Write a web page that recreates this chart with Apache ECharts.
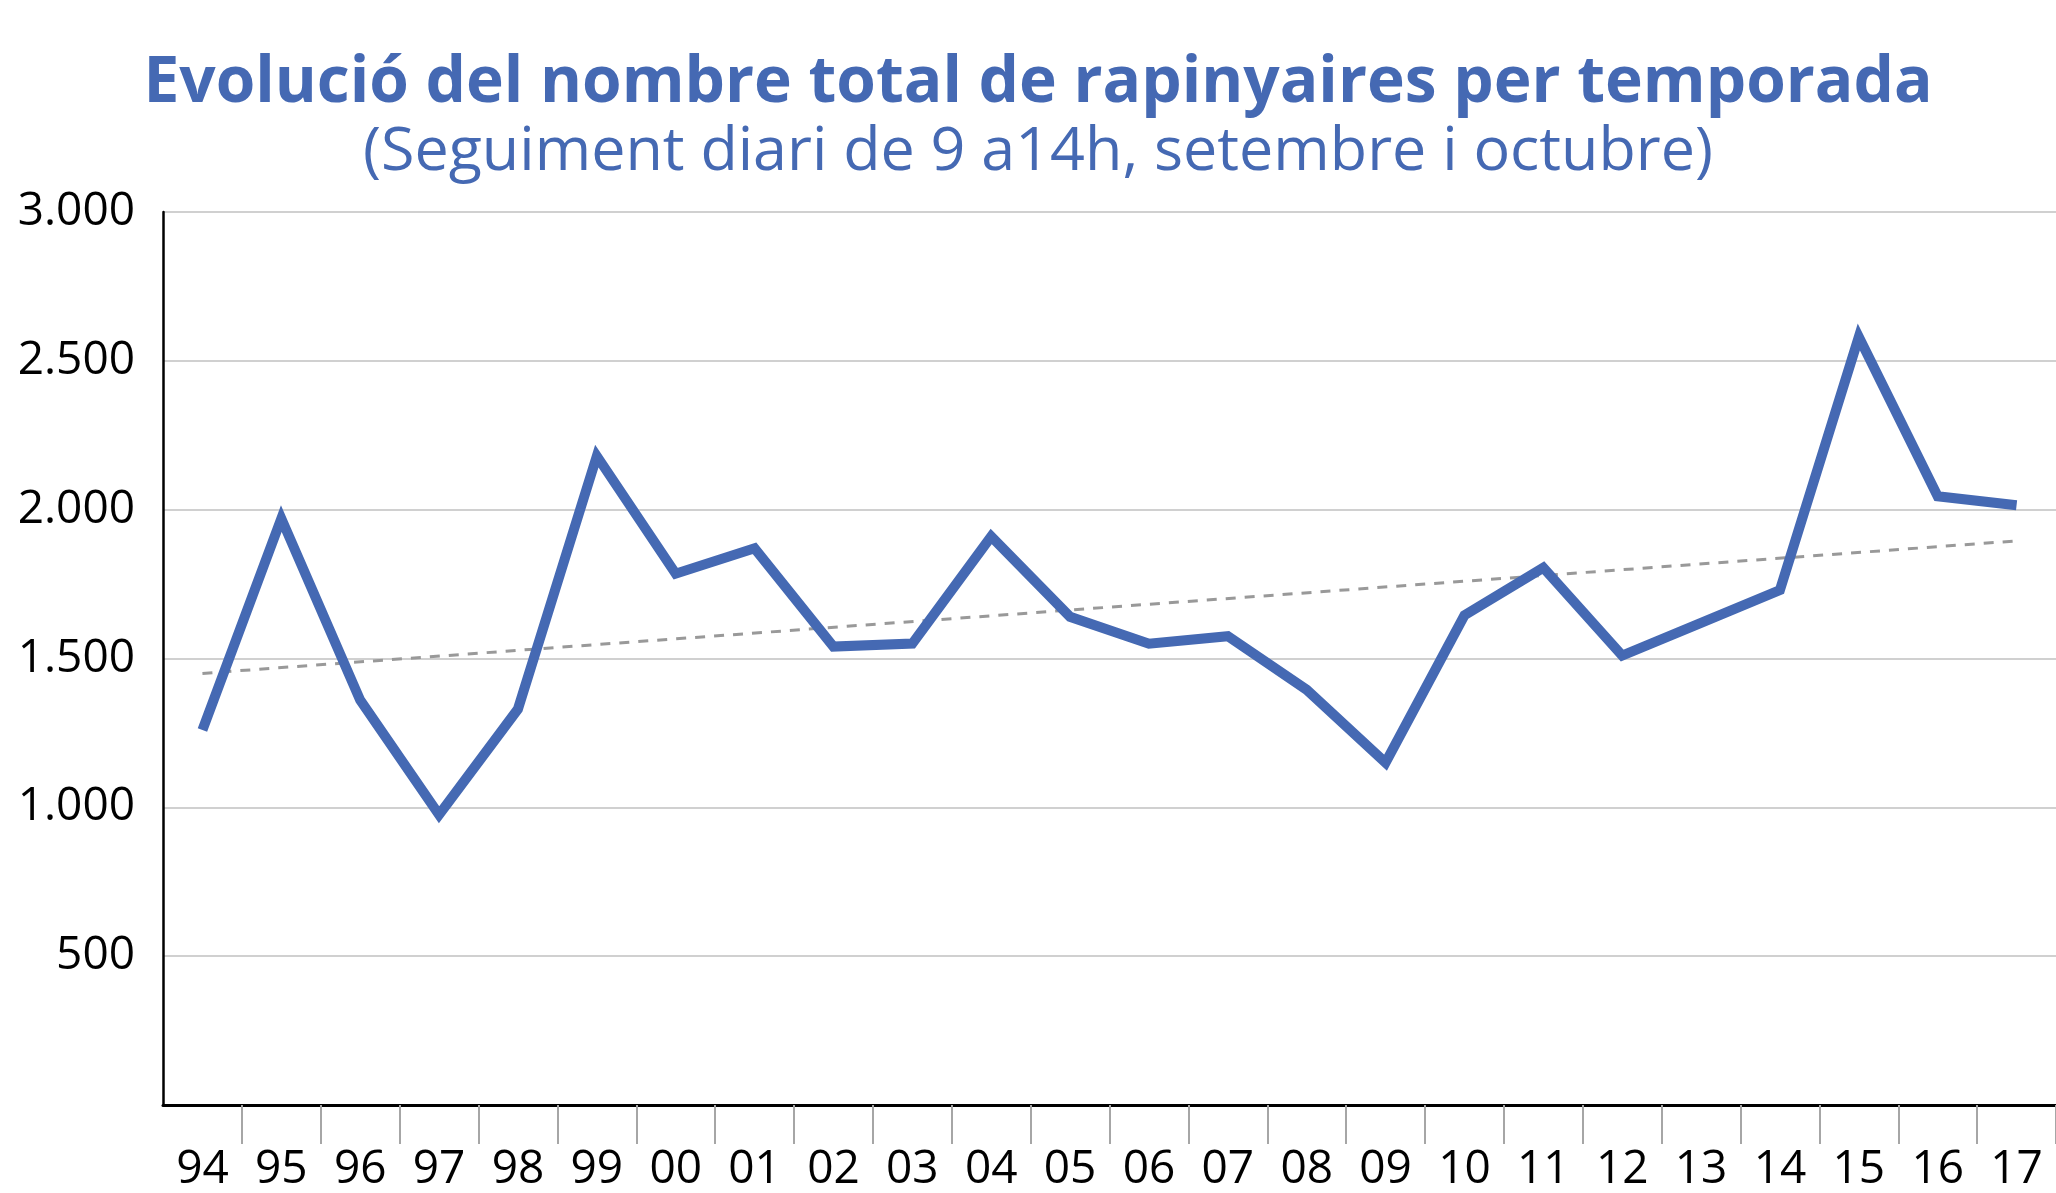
<!DOCTYPE html>
<html>
<head>
<meta charset="utf-8">
<title>Evolució del nombre total de rapinyaires per temporada</title>
<script src="https://cdn.jsdelivr.net/npm/echarts@6/dist/echarts.min.js"></script>
<style>
  html, body { margin: 0; padding: 0; background: #fff; }
  #chart { width: 2056px; height: 1193px; }
</style>
</head>
<body>
<div id="chart"></div>
<script>
// temporades (any)
var years = ["94", "95", "96", "97", "98", "99", "00", "01", "02", "03", "04", "05",
  "06", "07", "08", "09", "10", "11", "12", "13", "14", "15", "16", "17"];
// nombre total de rapinyaires
var counts = [1260, 1970, 1360, 975, 1330, 2180, 1785, 1870, 1540, 1550, 1910, 1640,
  1550, 1575, 1395, 1150, 1645, 1805, 1510, 1620, 1730, 2580, 2045, 2015];
// línia de tendència: valor al primer i a l'últim any
var trendEnds = [1450, 1895];
var yTickLabels = ["", "500", "1.000", "1.500", "2.000", "2.500", "3.000"];

var blue = "#4569b3";
var labelFont = "'Open Sans', sans-serif";

var chart = echarts.init(document.getElementById("chart"));
chart.setOption({
  animation: false,
  backgroundColor: "#fff",
  title: [
    {
      text: "Evolució del nombre total de rapinyaires per temporada",
      left: 1038,
      top: 52,
      padding: 0,
      textAlign: "center",
      textStyle: {
        color: blue,
        fontFamily: "'Open Sans'",
        fontWeight: "bold",
        fontSize: 64
      }
    },
    {
      text: "(Seguiment diari de 9 a14h, setembre i octubre)",
      left: 1038,
      top: 122,
      padding: 0,
      textAlign: "center",
      textStyle: {
        color: blue,
        fontFamily: "'Open Sans'",
        fontWeight: "normal",
        fontSize: 61
      }
    }
  ],
  grid: {
    left: 163,
    top: 212,
    width: 1898,
    height: 903
  },
  xAxis: {
    type: "category",
    data: years,
    boundaryGap: true,
    axisLine: { lineStyle: { color: "#000", width: 3 } },
    axisTick: {
      show: true,
      length: 39,
      interval: function (index) { return index > 0; },
      lineStyle: { color: "#a6a6a6", width: 2 }
    },
    axisLabel: {
      color: "#000",
      fontFamily: labelFont,
      fontSize: 46,
      margin: 42
    },
    splitLine: { show: false }
  },
  yAxis: {
    type: "value",
    min: 0,
    max: 3000,
    interval: 500,
    axisLine: { show: true, lineStyle: { color: "#000", width: 2.5 } },
    axisTick: { show: false },
    axisLabel: {
      color: "#000",
      fontFamily: labelFont,
      fontSize: 46,
      margin: 28,
      formatter: function (v) { return yTickLabels[Math.round(v / 500)]; }
    },
    splitLine: { lineStyle: { color: "#d0d0d0", width: 2 } }
  },
  series: [
    {
      name: "tendència",
      type: "line",
      data: [[0, trendEnds[0]], [years.length - 1, trendEnds[1]]],
      symbol: "none",
      silent: true,
      lineStyle: { color: "#999", width: 3, type: [10, 9] },
      z: 1
    },
    {
      name: "rapinyaires",
      type: "line",
      data: counts,
      symbol: "none",
      lineStyle: { color: blue, width: 10, join: "miter", miterLimit: 10, cap: "butt" },
      z: 2
    }
  ]
});
</script>
</body>
</html>
